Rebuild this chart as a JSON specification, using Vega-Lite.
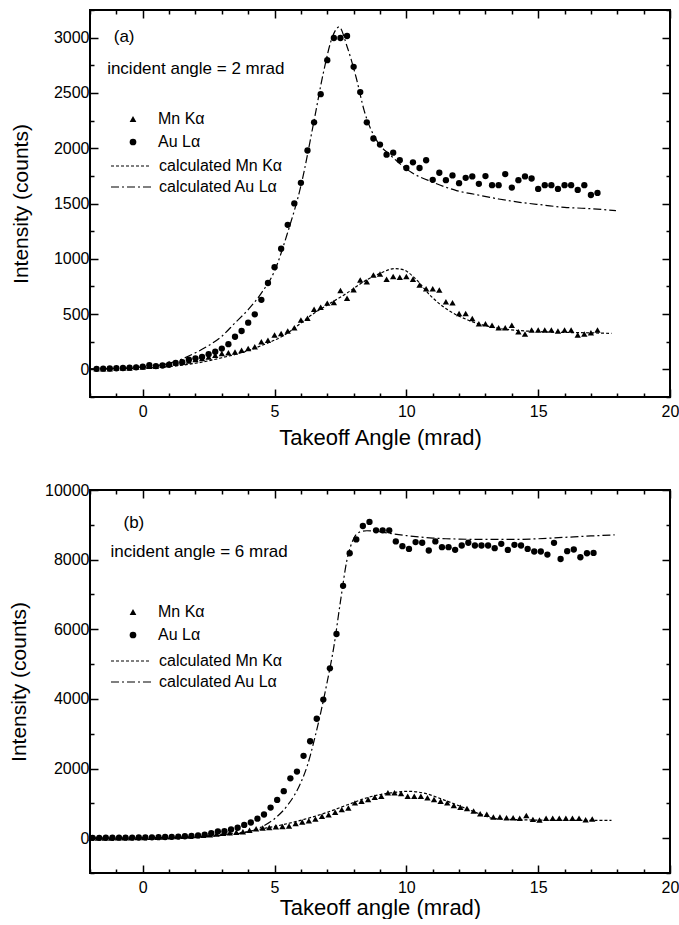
{
  "$schema": "https://vega.github.io/schema/vega-lite/v6.json",
  "background": "white",
  "padding": {"left": 7, "top": 1, "right": 5, "bottom": 0},
  "config": {
    "font": "Liberation Sans",
    "view": {"stroke": "black", "strokeWidth": 2},
    "axis": {
      "labelFont": "Liberation Sans", "labelFontSize": 16, "labelColor": "black",
      "titleFont": "Liberation Sans", "titleFontSize": 21, "titleFontWeight": "normal", "titleColor": "black",
      "domain": false, "grid": false, "tickColor": "black", "tickWidth": 1.5,
      "labelOverlap": false, "labelFlush": false
    },
    "legend": {
      "labelFont": "Liberation Sans", "labelFontSize": 16, "labelColor": "black",
      "padding": 0, "title": null
    },
    "concat": {"spacing": 32}
  },
  "datasets": {
    "a_meas": [
      {"angle": -1.75, "intensity": 6, "meas": "Mn Kα"}, {"angle": -1.5, "intensity": 6, "meas": "Mn Kα"}, {"angle": -1.25, "intensity": 6, "meas": "Mn Kα"}, {"angle": -1.0, "intensity": 12, "meas": "Mn Kα"},
      {"angle": -0.75, "intensity": 12, "meas": "Mn Kα"}, {"angle": -0.5, "intensity": 12, "meas": "Mn Kα"}, {"angle": -0.25, "intensity": 21, "meas": "Mn Kα"}, {"angle": 0.0, "intensity": 21, "meas": "Mn Kα"},
      {"angle": 0.25, "intensity": 27, "meas": "Mn Kα"}, {"angle": 0.5, "intensity": 27, "meas": "Mn Kα"}, {"angle": 0.75, "intensity": 36, "meas": "Mn Kα"}, {"angle": 1.0, "intensity": 52, "meas": "Mn Kα"},
      {"angle": 1.25, "intensity": 58, "meas": "Mn Kα"}, {"angle": 1.5, "intensity": 67, "meas": "Mn Kα"}, {"angle": 1.75, "intensity": 76, "meas": "Mn Kα"}, {"angle": 2.0, "intensity": 88, "meas": "Mn Kα"},
      {"angle": 2.25, "intensity": 97, "meas": "Mn Kα"}, {"angle": 2.5, "intensity": 112, "meas": "Mn Kα"}, {"angle": 2.75, "intensity": 128, "meas": "Mn Kα"}, {"angle": 3.0, "intensity": 143, "meas": "Mn Kα"},
      {"angle": 3.25, "intensity": 150, "meas": "Mn Kα"}, {"angle": 3.5, "intensity": 158, "meas": "Mn Kα"}, {"angle": 3.75, "intensity": 173, "meas": "Mn Kα"}, {"angle": 4.0, "intensity": 188, "meas": "Mn Kα"},
      {"angle": 4.25, "intensity": 204, "meas": "Mn Kα"}, {"angle": 4.5, "intensity": 249, "meas": "Mn Kα"}, {"angle": 4.75, "intensity": 264, "meas": "Mn Kα"}, {"angle": 5.0, "intensity": 310, "meas": "Mn Kα"},
      {"angle": 5.25, "intensity": 325, "meas": "Mn Kα"}, {"angle": 5.5, "intensity": 347, "meas": "Mn Kα"}, {"angle": 5.75, "intensity": 377, "meas": "Mn Kα"}, {"angle": 6.0, "intensity": 447, "meas": "Mn Kα"},
      {"angle": 6.25, "intensity": 462, "meas": "Mn Kα"}, {"angle": 6.5, "intensity": 544, "meas": "Mn Kα"}, {"angle": 6.75, "intensity": 562, "meas": "Mn Kα"}, {"angle": 7.0, "intensity": 599, "meas": "Mn Kα"},
      {"angle": 7.25, "intensity": 605, "meas": "Mn Kα"}, {"angle": 7.5, "intensity": 714, "meas": "Mn Kα"}, {"angle": 7.75, "intensity": 644, "meas": "Mn Kα"}, {"angle": 8.0, "intensity": 720, "meas": "Mn Kα"},
      {"angle": 8.25, "intensity": 808, "meas": "Mn Kα"}, {"angle": 8.5, "intensity": 793, "meas": "Mn Kα"}, {"angle": 8.75, "intensity": 854, "meas": "Mn Kα"}, {"angle": 9.0, "intensity": 863, "meas": "Mn Kα"},
      {"angle": 9.25, "intensity": 815, "meas": "Mn Kα"}, {"angle": 9.5, "intensity": 839, "meas": "Mn Kα"}, {"angle": 9.75, "intensity": 833, "meas": "Mn Kα"}, {"angle": 10.0, "intensity": 839, "meas": "Mn Kα"},
      {"angle": 10.25, "intensity": 815, "meas": "Mn Kα"}, {"angle": 10.5, "intensity": 763, "meas": "Mn Kα"}, {"angle": 10.75, "intensity": 729, "meas": "Mn Kα"}, {"angle": 11.0, "intensity": 729, "meas": "Mn Kα"},
      {"angle": 11.25, "intensity": 717, "meas": "Mn Kα"}, {"angle": 11.5, "intensity": 611, "meas": "Mn Kα"}, {"angle": 11.75, "intensity": 602, "meas": "Mn Kα"}, {"angle": 12.0, "intensity": 505, "meas": "Mn Kα"},
      {"angle": 12.25, "intensity": 505, "meas": "Mn Kα"}, {"angle": 12.5, "intensity": 459, "meas": "Mn Kα"}, {"angle": 12.75, "intensity": 413, "meas": "Mn Kα"}, {"angle": 13.0, "intensity": 413, "meas": "Mn Kα"},
      {"angle": 13.25, "intensity": 398, "meas": "Mn Kα"}, {"angle": 13.5, "intensity": 377, "meas": "Mn Kα"}, {"angle": 13.75, "intensity": 377, "meas": "Mn Kα"}, {"angle": 14.0, "intensity": 398, "meas": "Mn Kα"},
      {"angle": 14.25, "intensity": 340, "meas": "Mn Kα"}, {"angle": 14.5, "intensity": 319, "meas": "Mn Kα"}, {"angle": 14.75, "intensity": 356, "meas": "Mn Kα"}, {"angle": 15.0, "intensity": 356, "meas": "Mn Kα"},
      {"angle": 15.25, "intensity": 356, "meas": "Mn Kα"}, {"angle": 15.5, "intensity": 356, "meas": "Mn Kα"}, {"angle": 15.75, "intensity": 347, "meas": "Mn Kα"}, {"angle": 16.0, "intensity": 356, "meas": "Mn Kα"},
      {"angle": 16.25, "intensity": 356, "meas": "Mn Kα"}, {"angle": 16.5, "intensity": 310, "meas": "Mn Kα"}, {"angle": 16.75, "intensity": 319, "meas": "Mn Kα"}, {"angle": 17.0, "intensity": 331, "meas": "Mn Kα"},
      {"angle": 17.25, "intensity": 356, "meas": "Mn Kα"},
      {"angle": -1.75, "intensity": 5, "meas": "Au Lα"}, {"angle": -1.5, "intensity": 6, "meas": "Au Lα"}, {"angle": -1.25, "intensity": 8, "meas": "Au Lα"}, {"angle": -1.0, "intensity": 10, "meas": "Au Lα"},
      {"angle": -0.75, "intensity": 12, "meas": "Au Lα"}, {"angle": -0.5, "intensity": 15, "meas": "Au Lα"}, {"angle": -0.25, "intensity": 18, "meas": "Au Lα"}, {"angle": 0.0, "intensity": 25, "meas": "Au Lα"},
      {"angle": 0.25, "intensity": 38, "meas": "Au Lα"}, {"angle": 0.5, "intensity": 30, "meas": "Au Lα"}, {"angle": 0.75, "intensity": 35, "meas": "Au Lα"}, {"angle": 1.0, "intensity": 42, "meas": "Au Lα"},
      {"angle": 1.25, "intensity": 58, "meas": "Au Lα"}, {"angle": 1.5, "intensity": 65, "meas": "Au Lα"}, {"angle": 1.75, "intensity": 88, "meas": "Au Lα"}, {"angle": 2.0, "intensity": 100, "meas": "Au Lα"},
      {"angle": 2.25, "intensity": 112, "meas": "Au Lα"}, {"angle": 2.5, "intensity": 137, "meas": "Au Lα"}, {"angle": 2.75, "intensity": 160, "meas": "Au Lα"}, {"angle": 3.0, "intensity": 188, "meas": "Au Lα"},
      {"angle": 3.25, "intensity": 228, "meas": "Au Lα"}, {"angle": 3.5, "intensity": 295, "meas": "Au Lα"}, {"angle": 3.75, "intensity": 347, "meas": "Au Lα"}, {"angle": 4.0, "intensity": 422, "meas": "Au Lα"},
      {"angle": 4.25, "intensity": 498, "meas": "Au Lα"}, {"angle": 4.5, "intensity": 629, "meas": "Au Lα"}, {"angle": 4.75, "intensity": 781, "meas": "Au Lα"}, {"angle": 5.0, "intensity": 924, "meas": "Au Lα"},
      {"angle": 5.25, "intensity": 1091, "meas": "Au Lα"}, {"angle": 5.5, "intensity": 1307, "meas": "Au Lα"}, {"angle": 5.75, "intensity": 1501, "meas": "Au Lα"}, {"angle": 6.0, "intensity": 1687, "meas": "Au Lα"},
      {"angle": 6.25, "intensity": 1979, "meas": "Au Lα"}, {"angle": 6.5, "intensity": 2234, "meas": "Au Lα"}, {"angle": 6.75, "intensity": 2489, "meas": "Au Lα"}, {"angle": 7.0, "intensity": 2796, "meas": "Au Lα"},
      {"angle": 7.25, "intensity": 2997, "meas": "Au Lα"}, {"angle": 7.5, "intensity": 2997, "meas": "Au Lα"}, {"angle": 7.75, "intensity": 3015, "meas": "Au Lα"}, {"angle": 8.0, "intensity": 2736, "meas": "Au Lα"},
      {"angle": 8.25, "intensity": 2508, "meas": "Au Lα"}, {"angle": 8.5, "intensity": 2234, "meas": "Au Lα"}, {"angle": 8.75, "intensity": 2088, "meas": "Au Lα"}, {"angle": 9.0, "intensity": 2033, "meas": "Au Lα"},
      {"angle": 9.25, "intensity": 1942, "meas": "Au Lα"}, {"angle": 9.5, "intensity": 1960, "meas": "Au Lα"}, {"angle": 9.75, "intensity": 1891, "meas": "Au Lα"}, {"angle": 10.0, "intensity": 1821, "meas": "Au Lα"},
      {"angle": 10.25, "intensity": 1872, "meas": "Au Lα"}, {"angle": 10.5, "intensity": 1821, "meas": "Au Lα"}, {"angle": 10.75, "intensity": 1891, "meas": "Au Lα"}, {"angle": 11.0, "intensity": 1714, "meas": "Au Lα"},
      {"angle": 11.25, "intensity": 1778, "meas": "Au Lα"}, {"angle": 11.5, "intensity": 1711, "meas": "Au Lα"}, {"angle": 11.75, "intensity": 1754, "meas": "Au Lα"}, {"angle": 12.0, "intensity": 1684, "meas": "Au Lα"},
      {"angle": 12.25, "intensity": 1732, "meas": "Au Lα"}, {"angle": 12.5, "intensity": 1745, "meas": "Au Lα"}, {"angle": 12.75, "intensity": 1678, "meas": "Au Lα"}, {"angle": 13.0, "intensity": 1748, "meas": "Au Lα"},
      {"angle": 13.25, "intensity": 1666, "meas": "Au Lα"}, {"angle": 13.5, "intensity": 1666, "meas": "Au Lα"}, {"angle": 13.75, "intensity": 1766, "meas": "Au Lα"}, {"angle": 14.0, "intensity": 1644, "meas": "Au Lα"},
      {"angle": 14.25, "intensity": 1711, "meas": "Au Lα"}, {"angle": 14.5, "intensity": 1745, "meas": "Au Lα"}, {"angle": 14.75, "intensity": 1726, "meas": "Au Lα"}, {"angle": 15.0, "intensity": 1632, "meas": "Au Lα"},
      {"angle": 15.25, "intensity": 1666, "meas": "Au Lα"}, {"angle": 15.5, "intensity": 1666, "meas": "Au Lα"}, {"angle": 15.75, "intensity": 1632, "meas": "Au Lα"}, {"angle": 16.0, "intensity": 1666, "meas": "Au Lα"},
      {"angle": 16.25, "intensity": 1666, "meas": "Au Lα"}, {"angle": 16.5, "intensity": 1623, "meas": "Au Lα"}, {"angle": 16.75, "intensity": 1666, "meas": "Au Lα"}, {"angle": 17.0, "intensity": 1577, "meas": "Au Lα"},
      {"angle": 17.25, "intensity": 1596, "meas": "Au Lα"}
    ],
    "a_calc": [
      {"angle": -2, "intensity": 3, "calc": "calculated Mn Kα"}, {"angle": -1, "intensity": 6, "calc": "calculated Mn Kα"}, {"angle": 0, "intensity": 12, "calc": "calculated Mn Kα"},
      {"angle": 1, "intensity": 25, "calc": "calculated Mn Kα"}, {"angle": 2, "intensity": 55, "calc": "calculated Mn Kα"}, {"angle": 3, "intensity": 105, "calc": "calculated Mn Kα"},
      {"angle": 4, "intensity": 170, "calc": "calculated Mn Kα"}, {"angle": 4.5, "intensity": 215, "calc": "calculated Mn Kα"}, {"angle": 5.3, "intensity": 300, "calc": "calculated Mn Kα"},
      {"angle": 6.5, "intensity": 508, "calc": "calculated Mn Kα"}, {"angle": 7.75, "intensity": 690, "calc": "calculated Mn Kα"}, {"angle": 8.5, "intensity": 810, "calc": "calculated Mn Kα"},
      {"angle": 9.04, "intensity": 872, "calc": "calculated Mn Kα"}, {"angle": 9.55, "intensity": 912, "calc": "calculated Mn Kα"}, {"angle": 9.9, "intensity": 900, "calc": "calculated Mn Kα"},
      {"angle": 10.3, "intensity": 830, "calc": "calculated Mn Kα"}, {"angle": 10.94, "intensity": 660, "calc": "calculated Mn Kα"}, {"angle": 11.57, "intensity": 538, "calc": "calculated Mn Kα"},
      {"angle": 12.33, "intensity": 447, "calc": "calculated Mn Kα"}, {"angle": 13.0, "intensity": 395, "calc": "calculated Mn Kα"}, {"angle": 13.5, "intensity": 371, "calc": "calculated Mn Kα"},
      {"angle": 14.33, "intensity": 350, "calc": "calculated Mn Kα"}, {"angle": 15.16, "intensity": 340, "calc": "calculated Mn Kα"}, {"angle": 16.0, "intensity": 334, "calc": "calculated Mn Kα"},
      {"angle": 16.8, "intensity": 331, "calc": "calculated Mn Kα"}, {"angle": 17.78, "intensity": 325, "calc": "calculated Mn Kα"},
      {"angle": -2, "intensity": 5, "calc": "calculated Au Lα"}, {"angle": -1, "intensity": 10, "calc": "calculated Au Lα"}, {"angle": 0, "intensity": 22, "calc": "calculated Au Lα"},
      {"angle": 1, "intensity": 55, "calc": "calculated Au Lα"}, {"angle": 1.5, "intensity": 95, "calc": "calculated Au Lα"}, {"angle": 2, "intensity": 150, "calc": "calculated Au Lα"},
      {"angle": 2.5, "intensity": 215, "calc": "calculated Au Lα"}, {"angle": 3, "intensity": 300, "calc": "calculated Au Lα"}, {"angle": 3.5, "intensity": 420, "calc": "calculated Au Lα"},
      {"angle": 4, "intensity": 540, "calc": "calculated Au Lα"}, {"angle": 4.5, "intensity": 690, "calc": "calculated Au Lα"}, {"angle": 5, "intensity": 890, "calc": "calculated Au Lα"},
      {"angle": 5.5, "intensity": 1240, "calc": "calculated Au Lα"}, {"angle": 6, "intensity": 1660, "calc": "calculated Au Lα"}, {"angle": 6.5, "intensity": 2250, "calc": "calculated Au Lα"},
      {"angle": 6.85, "intensity": 2680, "calc": "calculated Au Lα"}, {"angle": 7.2, "intensity": 3010, "calc": "calculated Au Lα"}, {"angle": 7.45, "intensity": 3097, "calc": "calculated Au Lα"},
      {"angle": 7.75, "intensity": 2920, "calc": "calculated Au Lα"}, {"angle": 8.1, "intensity": 2635, "calc": "calculated Au Lα"}, {"angle": 8.4, "intensity": 2340, "calc": "calculated Au Lα"},
      {"angle": 8.9, "intensity": 2060, "calc": "calculated Au Lα"}, {"angle": 9.4, "intensity": 1936, "calc": "calculated Au Lα"}, {"angle": 10.2, "intensity": 1780, "calc": "calculated Au Lα"},
      {"angle": 11.0, "intensity": 1693, "calc": "calculated Au Lα"}, {"angle": 11.9, "intensity": 1617, "calc": "calculated Au Lα"}, {"angle": 12.7, "intensity": 1578, "calc": "calculated Au Lα"},
      {"angle": 13.5, "intensity": 1541, "calc": "calculated Au Lα"}, {"angle": 14.3, "intensity": 1511, "calc": "calculated Au Lα"}, {"angle": 15.2, "intensity": 1486, "calc": "calculated Au Lα"},
      {"angle": 16.0, "intensity": 1465, "calc": "calculated Au Lα"}, {"angle": 16.8, "intensity": 1456, "calc": "calculated Au Lα"}, {"angle": 17.95, "intensity": 1435, "calc": "calculated Au Lα"}
    ],
    "b_meas": [
      {"angle": -1.95, "intensity": 5, "meas": "Mn Kα"}, {"angle": -1.7, "intensity": 5, "meas": "Mn Kα"}, {"angle": -1.45, "intensity": 8, "meas": "Mn Kα"}, {"angle": -1.2, "intensity": 8, "meas": "Mn Kα"},
      {"angle": -0.95, "intensity": 10, "meas": "Mn Kα"}, {"angle": -0.7, "intensity": 12, "meas": "Mn Kα"}, {"angle": -0.45, "intensity": 15, "meas": "Mn Kα"}, {"angle": -0.2, "intensity": 18, "meas": "Mn Kα"},
      {"angle": 0.05, "intensity": 20, "meas": "Mn Kα"}, {"angle": 0.3, "intensity": 25, "meas": "Mn Kα"}, {"angle": 0.55, "intensity": 30, "meas": "Mn Kα"}, {"angle": 0.8, "intensity": 35, "meas": "Mn Kα"},
      {"angle": 1.05, "intensity": 40, "meas": "Mn Kα"}, {"angle": 1.3, "intensity": 45, "meas": "Mn Kα"}, {"angle": 1.55, "intensity": 55, "meas": "Mn Kα"}, {"angle": 1.8, "intensity": 60, "meas": "Mn Kα"},
      {"angle": 2.05, "intensity": 75, "meas": "Mn Kα"}, {"angle": 2.3, "intensity": 85, "meas": "Mn Kα"}, {"angle": 2.55, "intensity": 100, "meas": "Mn Kα"}, {"angle": 2.8, "intensity": 120, "meas": "Mn Kα"},
      {"angle": 3.05, "intensity": 140, "meas": "Mn Kα"}, {"angle": 3.3, "intensity": 155, "meas": "Mn Kα"}, {"angle": 3.55, "intensity": 170, "meas": "Mn Kα"}, {"angle": 3.8, "intensity": 185, "meas": "Mn Kα"},
      {"angle": 4.05, "intensity": 230, "meas": "Mn Kα"}, {"angle": 4.3, "intensity": 270, "meas": "Mn Kα"}, {"angle": 4.55, "intensity": 290, "meas": "Mn Kα"}, {"angle": 4.8, "intensity": 310, "meas": "Mn Kα"},
      {"angle": 5.05, "intensity": 330, "meas": "Mn Kα"}, {"angle": 5.3, "intensity": 337, "meas": "Mn Kα"}, {"angle": 5.55, "intensity": 350, "meas": "Mn Kα"}, {"angle": 5.8, "intensity": 420, "meas": "Mn Kα"},
      {"angle": 6.05, "intensity": 463, "meas": "Mn Kα"}, {"angle": 6.3, "intensity": 501, "meas": "Mn Kα"}, {"angle": 6.55, "intensity": 550, "meas": "Mn Kα"}, {"angle": 6.8, "intensity": 627, "meas": "Mn Kα"},
      {"angle": 7.05, "intensity": 676, "meas": "Mn Kα"}, {"angle": 7.3, "intensity": 743, "meas": "Mn Kα"}, {"angle": 7.55, "intensity": 820, "meas": "Mn Kα"}, {"angle": 7.8, "intensity": 869, "meas": "Mn Kα"},
      {"angle": 8.05, "intensity": 1014, "meas": "Mn Kα"}, {"angle": 8.3, "intensity": 1062, "meas": "Mn Kα"}, {"angle": 8.55, "intensity": 1110, "meas": "Mn Kα"}, {"angle": 8.8, "intensity": 1178, "meas": "Mn Kα"},
      {"angle": 9.05, "intensity": 1207, "meas": "Mn Kα"}, {"angle": 9.3, "intensity": 1303, "meas": "Mn Kα"}, {"angle": 9.55, "intensity": 1303, "meas": "Mn Kα"}, {"angle": 9.8, "intensity": 1284, "meas": "Mn Kα"},
      {"angle": 10.05, "intensity": 1207, "meas": "Mn Kα"}, {"angle": 10.3, "intensity": 1207, "meas": "Mn Kα"}, {"angle": 10.55, "intensity": 1207, "meas": "Mn Kα"}, {"angle": 10.8, "intensity": 1159, "meas": "Mn Kα"},
      {"angle": 11.05, "intensity": 1110, "meas": "Mn Kα"}, {"angle": 11.3, "intensity": 1062, "meas": "Mn Kα"}, {"angle": 11.55, "intensity": 1014, "meas": "Mn Kα"}, {"angle": 11.8, "intensity": 937, "meas": "Mn Kα"},
      {"angle": 12.05, "intensity": 889, "meas": "Mn Kα"}, {"angle": 12.3, "intensity": 850, "meas": "Mn Kα"}, {"angle": 12.55, "intensity": 780, "meas": "Mn Kα"}, {"angle": 12.8, "intensity": 700, "meas": "Mn Kα"},
      {"angle": 13.05, "intensity": 690, "meas": "Mn Kα"}, {"angle": 13.3, "intensity": 610, "meas": "Mn Kα"}, {"angle": 13.55, "intensity": 610, "meas": "Mn Kα"}, {"angle": 13.8, "intensity": 590, "meas": "Mn Kα"},
      {"angle": 14.05, "intensity": 590, "meas": "Mn Kα"}, {"angle": 14.3, "intensity": 570, "meas": "Mn Kα"}, {"angle": 14.55, "intensity": 650, "meas": "Mn Kα"}, {"angle": 14.8, "intensity": 540, "meas": "Mn Kα"},
      {"angle": 15.05, "intensity": 520, "meas": "Mn Kα"}, {"angle": 15.3, "intensity": 570, "meas": "Mn Kα"}, {"angle": 15.55, "intensity": 570, "meas": "Mn Kα"}, {"angle": 15.8, "intensity": 570, "meas": "Mn Kα"},
      {"angle": 16.05, "intensity": 570, "meas": "Mn Kα"}, {"angle": 16.3, "intensity": 570, "meas": "Mn Kα"}, {"angle": 16.55, "intensity": 570, "meas": "Mn Kα"}, {"angle": 16.8, "intensity": 530, "meas": "Mn Kα"},
      {"angle": 17.05, "intensity": 550, "meas": "Mn Kα"},
      {"angle": -1.9, "intensity": 10, "meas": "Au Lα"}, {"angle": -1.65, "intensity": 10, "meas": "Au Lα"}, {"angle": -1.4, "intensity": 12, "meas": "Au Lα"}, {"angle": -1.15, "intensity": 12, "meas": "Au Lα"},
      {"angle": -0.9, "intensity": 15, "meas": "Au Lα"}, {"angle": -0.65, "intensity": 15, "meas": "Au Lα"}, {"angle": -0.4, "intensity": 18, "meas": "Au Lα"}, {"angle": -0.15, "intensity": 20, "meas": "Au Lα"},
      {"angle": 0.1, "intensity": 22, "meas": "Au Lα"}, {"angle": 0.35, "intensity": 25, "meas": "Au Lα"}, {"angle": 0.6, "intensity": 30, "meas": "Au Lα"}, {"angle": 0.85, "intensity": 35, "meas": "Au Lα"},
      {"angle": 1.1, "intensity": 40, "meas": "Au Lα"}, {"angle": 1.35, "intensity": 45, "meas": "Au Lα"}, {"angle": 1.6, "intensity": 55, "meas": "Au Lα"}, {"angle": 1.85, "intensity": 65, "meas": "Au Lα"},
      {"angle": 2.1, "intensity": 80, "meas": "Au Lα"}, {"angle": 2.35, "intensity": 100, "meas": "Au Lα"}, {"angle": 2.6, "intensity": 145, "meas": "Au Lα"}, {"angle": 2.85, "intensity": 193, "meas": "Au Lα"},
      {"angle": 3.1, "intensity": 200, "meas": "Au Lα"}, {"angle": 3.35, "intensity": 250, "meas": "Au Lα"}, {"angle": 3.6, "intensity": 300, "meas": "Au Lα"}, {"angle": 3.85, "intensity": 380, "meas": "Au Lα"},
      {"angle": 4.1, "intensity": 450, "meas": "Au Lα"}, {"angle": 4.35, "intensity": 560, "meas": "Au Lα"}, {"angle": 4.6, "intensity": 680, "meas": "Au Lα"}, {"angle": 4.85, "intensity": 880, "meas": "Au Lα"},
      {"angle": 5.1, "intensity": 1100, "meas": "Au Lα"}, {"angle": 5.35, "intensity": 1351, "meas": "Au Lα"}, {"angle": 5.6, "intensity": 1719, "meas": "Au Lα"}, {"angle": 5.85, "intensity": 1913, "meas": "Au Lα"},
      {"angle": 6.1, "intensity": 2366, "meas": "Au Lα"}, {"angle": 6.35, "intensity": 2783, "meas": "Au Lα"}, {"angle": 6.6, "intensity": 3430, "meas": "Au Lα"}, {"angle": 6.85, "intensity": 3980, "meas": "Au Lα"},
      {"angle": 7.1, "intensity": 4879, "meas": "Au Lα"}, {"angle": 7.35, "intensity": 5865, "meas": "Au Lα"}, {"angle": 7.6, "intensity": 7248, "meas": "Au Lα"}, {"angle": 7.85, "intensity": 8184, "meas": "Au Lα"},
      {"angle": 8.1, "intensity": 8581, "meas": "Au Lα"}, {"angle": 8.35, "intensity": 8967, "meas": "Au Lα"}, {"angle": 8.6, "intensity": 9083, "meas": "Au Lα"}, {"angle": 8.85, "intensity": 8842, "meas": "Au Lα"},
      {"angle": 9.1, "intensity": 8842, "meas": "Au Lα"}, {"angle": 9.35, "intensity": 8842, "meas": "Au Lα"}, {"angle": 9.6, "intensity": 8523, "meas": "Au Lα"}, {"angle": 9.85, "intensity": 8387, "meas": "Au Lα"},
      {"angle": 10.1, "intensity": 8309, "meas": "Au Lα"}, {"angle": 10.35, "intensity": 8503, "meas": "Au Lα"}, {"angle": 10.6, "intensity": 8484, "meas": "Au Lα"}, {"angle": 10.85, "intensity": 8262, "meas": "Au Lα"},
      {"angle": 11.1, "intensity": 8523, "meas": "Au Lα"}, {"angle": 11.35, "intensity": 8358, "meas": "Au Lα"}, {"angle": 11.6, "intensity": 8358, "meas": "Au Lα"}, {"angle": 11.85, "intensity": 8281, "meas": "Au Lα"},
      {"angle": 12.1, "intensity": 8407, "meas": "Au Lα"}, {"angle": 12.35, "intensity": 8484, "meas": "Au Lα"}, {"angle": 12.6, "intensity": 8407, "meas": "Au Lα"}, {"angle": 12.85, "intensity": 8407, "meas": "Au Lα"},
      {"angle": 13.1, "intensity": 8407, "meas": "Au Lα"}, {"angle": 13.35, "intensity": 8329, "meas": "Au Lα"}, {"angle": 13.6, "intensity": 8454, "meas": "Au Lα"}, {"angle": 13.85, "intensity": 8280, "meas": "Au Lα"},
      {"angle": 14.1, "intensity": 8425, "meas": "Au Lα"}, {"angle": 14.35, "intensity": 8407, "meas": "Au Lα"}, {"angle": 14.6, "intensity": 8309, "meas": "Au Lα"}, {"angle": 14.85, "intensity": 8233, "meas": "Au Lα"},
      {"angle": 15.1, "intensity": 8233, "meas": "Au Lα"}, {"angle": 15.35, "intensity": 8146, "meas": "Au Lα"}, {"angle": 15.6, "intensity": 8483, "meas": "Au Lα"}, {"angle": 15.85, "intensity": 8019, "meas": "Au Lα"},
      {"angle": 16.1, "intensity": 8242, "meas": "Au Lα"}, {"angle": 16.35, "intensity": 8291, "meas": "Au Lα"}, {"angle": 16.6, "intensity": 8068, "meas": "Au Lα"}, {"angle": 16.85, "intensity": 8184, "meas": "Au Lα"},
      {"angle": 17.1, "intensity": 8193, "meas": "Au Lα"}
    ],
    "b_calc": [
      {"angle": -2, "intensity": 0, "calc": "calculated Mn Kα"}, {"angle": 0, "intensity": 8, "calc": "calculated Mn Kα"}, {"angle": 1, "intensity": 18, "calc": "calculated Mn Kα"},
      {"angle": 2, "intensity": 40, "calc": "calculated Mn Kα"}, {"angle": 3, "intensity": 100, "calc": "calculated Mn Kα"}, {"angle": 4, "intensity": 190, "calc": "calculated Mn Kα"},
      {"angle": 4.48, "intensity": 261, "calc": "calculated Mn Kα"}, {"angle": 5.3, "intensity": 386, "calc": "calculated Mn Kα"}, {"angle": 6.12, "intensity": 540, "calc": "calculated Mn Kα"},
      {"angle": 6.95, "intensity": 730, "calc": "calculated Mn Kα"}, {"angle": 7.77, "intensity": 960, "calc": "calculated Mn Kα"}, {"angle": 8.59, "intensity": 1180, "calc": "calculated Mn Kα"},
      {"angle": 9.41, "intensity": 1300, "calc": "calculated Mn Kα"}, {"angle": 10.07, "intensity": 1345, "calc": "calculated Mn Kα"}, {"angle": 10.72, "intensity": 1285, "calc": "calculated Mn Kα"},
      {"angle": 11.38, "intensity": 1111, "calc": "calculated Mn Kα"}, {"angle": 12.04, "intensity": 918, "calc": "calculated Mn Kα"}, {"angle": 12.69, "intensity": 725, "calc": "calculated Mn Kα"},
      {"angle": 13.35, "intensity": 560, "calc": "calculated Mn Kα"}, {"angle": 14.33, "intensity": 531, "calc": "calculated Mn Kα"}, {"angle": 15.98, "intensity": 512, "calc": "calculated Mn Kα"},
      {"angle": 17.78, "intensity": 510, "calc": "calculated Mn Kα"},
      {"angle": -2, "intensity": 0, "calc": "calculated Au Lα"}, {"angle": 0, "intensity": 5, "calc": "calculated Au Lα"}, {"angle": 1, "intensity": 15, "calc": "calculated Au Lα"},
      {"angle": 2, "intensity": 35, "calc": "calculated Au Lα"}, {"angle": 3, "intensity": 80, "calc": "calculated Au Lα"}, {"angle": 3.5, "intensity": 120, "calc": "calculated Au Lα"},
      {"angle": 4.0, "intensity": 180, "calc": "calculated Au Lα"}, {"angle": 4.5, "intensity": 320, "calc": "calculated Au Lα"}, {"angle": 5.0, "intensity": 560, "calc": "calculated Au Lα"},
      {"angle": 5.5, "intensity": 950, "calc": "calculated Au Lα"}, {"angle": 6.0, "intensity": 1600, "calc": "calculated Au Lα"}, {"angle": 6.25, "intensity": 2100, "calc": "calculated Au Lα"},
      {"angle": 6.5, "intensity": 2800, "calc": "calculated Au Lα"}, {"angle": 6.75, "intensity": 3600, "calc": "calculated Au Lα"}, {"angle": 7.0, "intensity": 4500, "calc": "calculated Au Lα"},
      {"angle": 7.25, "intensity": 5500, "calc": "calculated Au Lα"}, {"angle": 7.5, "intensity": 6800, "calc": "calculated Au Lα"}, {"angle": 7.75, "intensity": 8000, "calc": "calculated Au Lα"},
      {"angle": 8.0, "intensity": 8600, "calc": "calculated Au Lα"}, {"angle": 8.25, "intensity": 8800, "calc": "calculated Au Lα"}, {"angle": 8.5, "intensity": 8830, "calc": "calculated Au Lα"},
      {"angle": 9.0, "intensity": 8800, "calc": "calculated Au Lα"}, {"angle": 9.5, "intensity": 8740, "calc": "calculated Au Lα"}, {"angle": 10.0, "intensity": 8690, "calc": "calculated Au Lα"},
      {"angle": 10.5, "intensity": 8650, "calc": "calculated Au Lα"}, {"angle": 11.0, "intensity": 8620, "calc": "calculated Au Lα"}, {"angle": 11.5, "intensity": 8600, "calc": "calculated Au Lα"},
      {"angle": 12.0, "intensity": 8590, "calc": "calculated Au Lα"}, {"angle": 13.0, "intensity": 8580, "calc": "calculated Au Lα"}, {"angle": 14.0, "intensity": 8580, "calc": "calculated Au Lα"},
      {"angle": 15.0, "intensity": 8600, "calc": "calculated Au Lα"}, {"angle": 16.0, "intensity": 8640, "calc": "calculated Au Lα"}, {"angle": 17.0, "intensity": 8680, "calc": "calculated Au Lα"},
      {"angle": 17.9, "intensity": 8710, "calc": "calculated Au Lα"}
    ]
  },
  "vconcat": [
    {
      "width": 580,
      "height": 387,
      "layer": [
        {
          "data": {"name": "a_calc"},
          "mark": {"type": "line", "color": "black", "strokeWidth": 1.2, "interpolate": "monotone"},
          "encoding": {
            "x": {"field": "angle", "type": "quantitative", "scale": {"domain": [-2, 20], "nice": false, "zero": false},
              "axis": {"orient": "bottom", "values": [-2,-1,0,1,2,3,4,5,6,7,8,9,10,11,12,13,14,15,16,17,18,19,20],
                "labelExpr": "datum.value % 5 === 0 ? datum.label : ''",
                "tickSize": {"condition": {"test": "datum.value % 5 === 0", "value": -8}, "value": -4},
                "labelPadding": 14, "title": "Takeoff Angle (mrad)", "titleFontSize": 22, "titlePadding": 4}},
            "y": {"field": "intensity", "type": "quantitative", "scale": {"domain": [-250, 3250], "nice": false, "zero": false},
              "axis": {"orient": "left", "values": [-250,0,250,500,750,1000,1250,1500,1750,2000,2250,2500,2750,3000,3250],
                "format": "d",
                "labelExpr": "datum.value % 500 === 0 ? datum.label : ''",
                "tickSize": {"condition": {"test": "datum.value % 500 === 0", "value": -8}, "value": -4},
                "labelPadding": 9, "title": "Intensity (counts)", "titlePadding": 22}},
            "strokeDash": {"field": "calc", "type": "nominal",
              "scale": {"domain": ["calculated Mn Kα", "calculated Au Lα"], "range": [[3, 2], [8, 3, 2, 3]]},
              "legend": {"orient": "none", "legendX": 20, "legendY": 148, "symbolType": "stroke", "symbolSize": 1600,
                "symbolStrokeColor": "black", "symbolStrokeWidth": 1.2, "labelOffset": 7, "rowPadding": 5, "clipHeight": 16}}
          }
        },
        {
          "data": {"name": "a_meas"},
          "mark": {"type": "point", "filled": true, "color": "black", "size": 40, "opacity": 1},
          "encoding": {
            "x": {"field": "angle", "type": "quantitative", "scale": {"domain": [-2, 20], "nice": false, "zero": false},
              "axis": {"orient": "top", "values": [-2,-1,0,1,2,3,4,5,6,7,8,9,10,11,12,13,14,15,16,17,18,19,20],
                "labels": false, "title": null,
                "tickSize": {"condition": {"test": "datum.value % 5 === 0", "value": -8}, "value": -4}}},
            "y": {"field": "intensity", "type": "quantitative", "scale": {"domain": [-250, 3250], "nice": false, "zero": false},
              "axis": {"orient": "right", "values": [-250,0,250,500,750,1000,1250,1500,1750,2000,2250,2500,2750,3000,3250],
                "labels": false, "title": null,
                "tickSize": {"condition": {"test": "datum.value % 500 === 0", "value": -8}, "value": -4}}},
            "shape": {"field": "meas", "type": "nominal",
              "scale": {"domain": ["Mn Kα", "Au Lα"], "range": ["triangle-up", "circle"]},
              "legend": {"orient": "none", "legendX": 35, "legendY": 101, "symbolSize": 45,
                "symbolFillColor": "black", "symbolStrokeColor": "black", "symbolStrokeWidth": 0,
                "labelOffset": 17, "rowPadding": 7}}
          }
        },
        {
          "data": {"values": [{}]},
          "mark": {"type": "text", "align": "left", "baseline": "middle", "fontSize": 17, "font": "Liberation Sans", "color": "black"},
          "encoding": {
            "x": {"datum": -1.1, "type": "quantitative", "axis": null},
            "y": {"datum": 3005, "type": "quantitative", "axis": null},
            "text": {"value": "(a)"}
          }
        },
        {
          "data": {"values": [{}]},
          "mark": {"type": "text", "align": "left", "baseline": "middle", "fontSize": 17, "font": "Liberation Sans", "color": "black"},
          "encoding": {
            "x": {"datum": -1.35, "type": "quantitative", "axis": null},
            "y": {"datum": 2714, "type": "quantitative", "axis": null},
            "text": {"value": "incident angle = 2 mrad"}
          }
        }
      ],
      "resolve": {"axis": {"x": "independent", "y": "independent"}}
    },
    {
      "width": 580,
      "height": 383,
      "layer": [
        {
          "data": {"name": "b_calc"},
          "mark": {"type": "line", "color": "black", "strokeWidth": 1.2, "interpolate": "monotone"},
          "encoding": {
            "x": {"field": "angle", "type": "quantitative", "scale": {"domain": [-2, 20], "nice": false, "zero": false},
              "axis": {"orient": "bottom", "values": [-2,-1,0,1,2,3,4,5,6,7,8,9,10,11,12,13,14,15,16,17,18,19,20],
                "labelExpr": "datum.value % 5 === 0 ? datum.label : ''",
                "tickSize": {"condition": {"test": "datum.value % 5 === 0", "value": -8}, "value": -4},
                "labelPadding": 14, "title": "Takeoff angle (mrad)", "titleFontSize": 22, "titlePadding": -2}},
            "y": {"field": "intensity", "type": "quantitative", "scale": {"domain": [-1000, 10000], "nice": false, "zero": false},
              "axis": {"orient": "left", "values": [-1000,0,1000,2000,3000,4000,5000,6000,7000,8000,9000,10000],
                "format": "d",
                "labelExpr": "datum.value % 2000 === 0 ? datum.label : ''",
                "tickSize": {"condition": {"test": "datum.value % 2000 === 0", "value": -8}, "value": -4},
                "labelPadding": 9, "title": "Intensity (counts)", "titlePadding": 15}},
            "strokeDash": {"field": "calc", "type": "nominal",
              "scale": {"domain": ["calculated Mn Kα", "calculated Au Lα"], "range": [[3, 2], [8, 3, 2, 3]]},
              "legend": {"orient": "none", "legendX": 20, "legendY": 163, "symbolType": "stroke", "symbolSize": 1600,
                "symbolStrokeColor": "black", "symbolStrokeWidth": 1.2, "labelOffset": 7, "rowPadding": 5, "clipHeight": 16}}
          }
        },
        {
          "data": {"name": "b_meas"},
          "mark": {"type": "point", "filled": true, "color": "black", "size": 40, "opacity": 1},
          "encoding": {
            "x": {"field": "angle", "type": "quantitative", "scale": {"domain": [-2, 20], "nice": false, "zero": false},
              "axis": {"orient": "top", "values": [-2,-1,0,1,2,3,4,5,6,7,8,9,10,11,12,13,14,15,16,17,18,19,20],
                "labels": false, "title": null,
                "tickSize": {"condition": {"test": "datum.value % 5 === 0", "value": -8}, "value": -4}}},
            "y": {"field": "intensity", "type": "quantitative", "scale": {"domain": [-1000, 10000], "nice": false, "zero": false},
              "axis": {"orient": "right", "values": [-1000,0,1000,2000,3000,4000,5000,6000,7000,8000,9000,10000],
                "labels": false, "title": null,
                "tickSize": {"condition": {"test": "datum.value % 2000 === 0", "value": -8}, "value": -4}}},
            "shape": {"field": "meas", "type": "nominal",
              "scale": {"domain": ["Mn Kα", "Au Lα"], "range": ["triangle-up", "circle"]},
              "legend": {"orient": "none", "legendX": 35, "legendY": 114, "symbolSize": 45,
                "symbolFillColor": "black", "symbolStrokeColor": "black", "symbolStrokeWidth": 0,
                "labelOffset": 17, "rowPadding": 7}}
          }
        },
        {
          "data": {"values": [{}]},
          "mark": {"type": "text", "align": "left", "baseline": "middle", "fontSize": 17, "font": "Liberation Sans", "color": "black"},
          "encoding": {
            "x": {"datum": -0.73, "type": "quantitative", "axis": null},
            "y": {"datum": 9050, "type": "quantitative", "axis": null},
            "text": {"value": "(b)"}
          }
        },
        {
          "data": {"values": [{}]},
          "mark": {"type": "text", "align": "left", "baseline": "middle", "fontSize": 17, "font": "Liberation Sans", "color": "black"},
          "encoding": {
            "x": {"datum": -1.22, "type": "quantitative", "axis": null},
            "y": {"datum": 8220, "type": "quantitative", "axis": null},
            "text": {"value": "incident angle = 6 mrad"}
          }
        }
      ],
      "resolve": {"axis": {"x": "independent", "y": "independent"}}
    }
  ],
  "resolve": {
    "scale": {"shape": "independent", "strokeDash": "independent"},
    "legend": {"shape": "independent", "strokeDash": "independent"}
  }
}
